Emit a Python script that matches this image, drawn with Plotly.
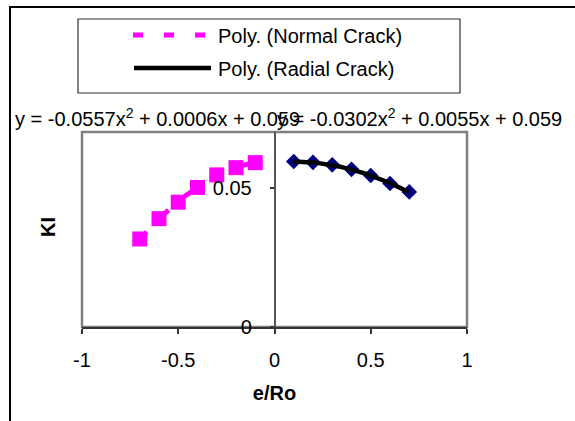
import numpy as np
import plotly.graph_objects as go

# ---- data ----
normal_x = [-0.7, -0.6, -0.5, -0.4, -0.3, -0.2, -0.1]
normal_y = [0.0316, 0.0389, 0.0448, 0.0501, 0.0546, 0.0572, 0.0590]
radial_x = [0.1, 0.2, 0.3, 0.4, 0.5, 0.6, 0.7]
radial_y = [0.0594, 0.0591, 0.0582, 0.0566, 0.0544, 0.0515, 0.0485]

x_tickvals = [-1, -0.5, 0, 0.5, 1]
x_ticktext = ["-1", "-0.5", "0", "0.5", "1"]
y_tickvals = [0, 0.05]
y_ticktext = ["0", "0.05"]

eq_normal = "y = -0.0557x<sup>2</sup> + 0.0006x + 0.059"
eq_radial = "y = -0.0302x<sup>2</sup> + 0.0055x + 0.059"
legend_names = ["Poly. (Normal Crack)", "Poly. (Radial Crack)"]

FONT = "Arial, Liberation Sans, sans-serif"
W, H = 575, 421
L, R, T, B = 82, 108, 132, 94
PW, PH = W - L - R, H - T - B


def px(x):
    return (x - L) / PW


def py(y):
    return (H - B - y) / PH


def trend(xs, ys):
    c = np.polyfit(xs, ys, 2)
    xx = np.linspace(min(xs), max(xs), 80)
    return xx, np.polyval(c, xx)


fig = go.Figure()
fig.add_trace(go.Scatter(x=normal_x, y=normal_y, mode="markers", name="Normal Crack",
                         marker=dict(symbol="square", size=15, color="#FF00FF"),
                         showlegend=False))
fig.add_trace(go.Scatter(x=radial_x, y=radial_y, mode="markers", name="Radial Crack",
                         marker=dict(symbol="diamond", size=12, color="#000080"),
                         showlegend=False))
tx, ty = trend(normal_x, normal_y)
fig.add_trace(go.Scatter(x=tx, y=ty, mode="lines", name=legend_names[0],
                         line=dict(color="#FF00FF", width=5, dash="10px,21px"),
                         showlegend=False))
tx, ty = trend(radial_x, radial_y)
fig.add_trace(go.Scatter(x=tx, y=ty, mode="lines", name=legend_names[1],
                         line=dict(color="#000000", width=4.5),
                         showlegend=False))

fig.update_layout(
    width=W, height=H,
    margin=dict(l=L, r=R, t=T, b=B),
    paper_bgcolor="white", plot_bgcolor="white",
    font=dict(family=FONT, size=20, color="black"),
    xaxis=dict(range=[-1, 1], tickvals=x_tickvals, ticktext=x_ticktext,
               showgrid=False, zeroline=False, showline=True,
               linecolor="#333333", linewidth=1.5,
               ticks="outside", ticklen=5, tickcolor="#333333", tickwidth=1.5,
               ticklabelstandoff=9,
               title=dict(text="<b>e/Ro</b>", standoff=16,
                          font=dict(size=20))),
    yaxis=dict(range=[0, 0.07], tickvals=y_tickvals, ticktext=y_ticktext,
               anchor="free", position=0.5,
               showgrid=False, zeroline=False, showline=True,
               linecolor="#555555", linewidth=1.5,
               ticks="outside", ticklen=4, tickcolor="#333333", tickwidth=1.5,
               ticklabelstandoff=14),
    showlegend=False,
)

shapes = [
    # plot area frame
    dict(type="rect", xref="x domain", yref="y domain", x0=0, x1=1, y0=0, y1=1,
         line=dict(color="#808080", width=2.5), layer="below"),
    # outer chart border
    dict(type="rect", xref="paper", yref="paper", x0=px(10), x1=px(620),
         y0=py(7), y1=py(470), line=dict(color="#000000", width=2)),
    # legend box
    dict(type="rect", xref="paper", yref="paper", x0=px(78), x1=px(460),
         y0=py(19), y1=py(93), line=dict(color="#333333", width=1.2)),
    # legend samples
    dict(type="line", xref="paper", yref="paper", x0=px(133), x1=px(206),
         y0=py(35), y1=py(35), line=dict(color="#FF00FF", width=5, dash="10px,21px")),
    dict(type="line", xref="paper", yref="paper", x0=px(134), x1=px(211),
         y0=py(68), y1=py(68), line=dict(color="#000000", width=4.5)),
]
fig.update_layout(shapes=shapes)

annotations = [
    dict(text=legend_names[0], x=px(216), y=py(36), xanchor="left", yanchor="middle"),
    dict(text=legend_names[1], x=px(216), y=py(69), xanchor="left", yanchor="middle"),
    dict(text=eq_normal, x=px(13), y=py(117), xanchor="left", yanchor="middle"),
    dict(text=eq_radial, x=px(564), y=py(117), xanchor="right", yanchor="middle"),
    dict(text="<b>KI</b>", x=px(48), y=py(227), xanchor="center", yanchor="middle",
         textangle=-90),
]
for a in annotations:
    a.update(xref="paper", yref="paper", showarrow=False,
             font=dict(family=FONT, size=20, color="black"))
fig.update_layout(annotations=annotations)

fig.write_html("out.html")
